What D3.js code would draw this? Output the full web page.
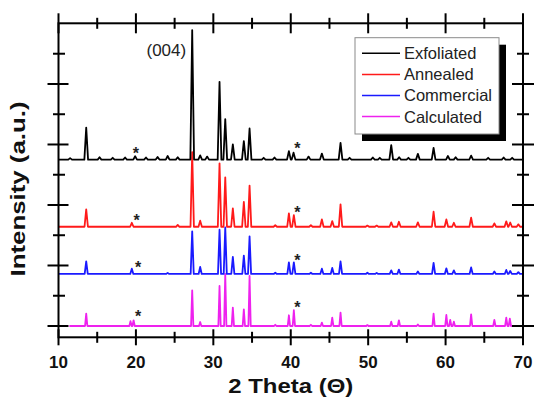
<!DOCTYPE html>
<html>
<head>
<meta charset="utf-8">
<script src="https://cdn.jsdelivr.net/npm/d3@7/dist/d3.min.js"></script>
<style>
  html, body { margin: 0; padding: 0; background: #fff; }
  svg { display: block; font-family: "Liberation Sans", Arial, sans-serif; }
</style>
</head>
<body>
<svg id="chart" width="534" height="398"></svg>
<script>
"use strict";

// peaks as [2theta, height above the trace's own baseline] in a.u.
const exfoliatedPeaks = [
  [11.5, 25], [13.58, 530], [15.3, 40], [17.0, 30], [18.6, 35], [19.9, 55], [21.3, 35], [22.8, 45],
  [24.1, 60], [25.4, 40], [27.27, 2140], [28.3, 70], [29.2, 50], [30.8, 1286], [31.54, 670],
  [32.52, 250], [33.94, 305], [34.68, 515], [36.5, 30], [37.9, 35], [39.76, 140], [40.36, 115],
  [42.3, 50], [44.02, 100], [46.43, 275], [47.6, 30], [50.6, 35], [51.5, 30], [52.98, 240],
  [54.0, 40], [55.2, 30], [56.42, 95], [58.45, 195], [60.3, 60], [61.3, 40], [63.3, 65],
  [65.5, 30], [67.5, 35], [68.6, 30]
];
const annealedPeaks = [
  [13.58, 288], [19.47, 66], [25.4, 30], [27.27, 1235], [28.3, 100], [30.8, 1048], [31.54, 817],
  [32.52, 304], [33.94, 413], [34.68, 680], [38.0, 25], [39.76, 220], [40.4, 193], [42.6, 25],
  [44.02, 122], [45.36, 94], [46.43, 370], [49.9, 20], [51.1, 20], [52.98, 73], [53.97, 83],
  [56.42, 73], [58.45, 248], [60.1, 122], [61.07, 66], [63.3, 150], [66.3, 56], [67.84, 90],
  [68.35, 70], [69.4, 40]
];
const commercialPeaks = [
  [13.58, 208], [19.47, 88], [24.1, 18], [27.27, 704], [28.3, 116], [30.8, 732], [31.54, 770],
  [32.52, 281], [33.94, 302], [34.68, 621], [38.0, 20], [39.76, 192], [40.4, 192], [42.6, 20],
  [44.02, 88], [45.36, 100], [46.43, 208], [49.9, 20], [51.1, 18], [52.98, 60], [53.97, 71],
  [56.42, 40], [58.45, 182], [60.1, 93], [61.07, 58], [63.3, 109], [66.3, 41], [67.84, 66],
  [68.35, 50], [69.4, 30]
];
const calculatedPeaks = [
  [13.58, 205], [19.3, 80], [19.7, 94], [27.27, 590], [28.3, 66], [30.8, 661], [31.54, 860],
  [32.52, 303], [33.94, 276], [34.68, 826], [38.0, 20], [39.76, 177], [40.4, 260], [42.6, 20],
  [44.02, 55], [45.36, 137], [46.43, 220], [49.9, 15], [52.98, 71], [53.97, 94], [56.42, 25],
  [58.45, 203], [60.1, 182], [60.6, 100], [61.07, 71], [63.3, 193], [66.3, 100], [67.84, 137],
  [68.3, 120]
];

const seriesNames = ["Exfoliated", "Annealed", "Commercial", "Calculated"];
const seriesColors = ["#000000", "#ff1a1a", "#1a1aff", "#ee22ee"];
const seriesOffsets = [2750, 1640, 860, 0];
const seriesRanges = [[10, 70], [10, 70], [10, 70], [11.4, 68.8]];
const seriesPeaks = [exfoliatedPeaks, annealedPeaks, commercialPeaks, calculatedPeaks];
const peakHalfWidths = [0.24, 0.22, 0.2, 0.15];
// asterisk markers: [2theta, height above baseline]
const starMarks = [
  [[20.0, 157], [40.85, 240]],
  [[20.1, 165], [40.85, 288]],
  [[20.3, 170], [40.85, 281]],
  [[20.3, 215], [40.85, 359]]
];

const xMajor = [10, 20, 30, 40, 50, 60, 70];
const xMinor = [15, 25, 35, 45, 55, 65];
const yMajor = [0, 1000, 2000, 3000, 4000];
const yMinor = [500, 1500, 2500, 3500, 4500];

const svg = d3.select("#chart");
const x = d3.scaleLinear().domain([10, 70]).range([58.5, 523]);
const y = d3.scaleLinear().domain([-187, 5003]).range([337.3, 23.3]);

function tracePoints(peaks, range, hw) {
  const pts = [[range[0], 0]];
  peaks.filter(function inRange(p) { return p[0] > range[0] && p[0] < range[1]; })
    .forEach(function addPeak(p) {
      pts.push([p[0] - hw, 0], [p[0], p[1]], [p[0] + hw, 0]);
    });
  pts.push([range[1], 0]);
  return pts;
}

const plot = svg.append("g");
const drawOrder = [3, 2, 1, 0];
drawOrder.forEach(function drawSeries(i) {
  const off = seriesOffsets[i];
  const line = d3.line()
    .x(function px(d) { return x(d[0]); })
    .y(function py(d) { return y(d[1] + off); });
  plot.append("path")
    .datum(tracePoints(seriesPeaks[i], seriesRanges[i], peakHalfWidths[i]))
    .attr("d", line)
    .attr("fill", "none")
    .attr("stroke", seriesColors[i])
    .attr("stroke-width", 1.8)
    .attr("stroke-linejoin", "round");
});

// stars
starMarks.forEach(function drawStars(marks, i) {
  marks.forEach(function drawStar(m) {
    svg.append("text")
      .attr("x", x(m[0]))
      .attr("y", y(m[1] + seriesOffsets[i]) + 9)
      .attr("text-anchor", "middle")
      .attr("font-size", 16)
      .attr("font-weight", "bold")
      .attr("fill", "#222")
      .text("*");
  });
});

// (004) label
svg.append("text")
  .attr("x", x(27.27) - 6)
  .attr("y", 56)
  .attr("text-anchor", "end")
  .attr("font-size", 17)
  .attr("fill", "#222")
  .text("(004)");

// axes frame
const axes = svg.append("g").attr("stroke", "#000").attr("stroke-width", 2);
axes.append("rect")
  .attr("x", x(10)).attr("y", y(5003))
  .attr("width", x(70) - x(10)).attr("height", y(-187) - y(5003))
  .attr("fill", "none");

function xTicks(values, yPos, up, down) {
  axes.selectAll(null).data(values).join("line")
    .attr("x1", function t(d) { return x(d); }).attr("x2", function t(d) { return x(d); })
    .attr("y1", yPos - up).attr("y2", yPos + down);
}
function yTicks(values, xPos, left, right) {
  axes.selectAll(null).data(values).join("line")
    .attr("y1", function t(d) { return y(d); }).attr("y2", function t(d) { return y(d); })
    .attr("x1", xPos - left).attr("x2", xPos + right);
}
xTicks(xMajor, y(5003), 10, 10);
xTicks(xMinor, y(5003), 5.5, 5.5);
xTicks(xMajor, y(-187), 8, 8);
xTicks(xMinor, y(-187), 5.5, 5.5);
yTicks(yMajor, x(10), 11, 10);
yTicks(yMinor, x(10), 5.5, 6.5);
yTicks(yMajor, x(70), 11, 11);
yTicks(yMinor, x(70), 6, 6);

// tick labels
svg.selectAll(null).data(xMajor).join("text")
  .attr("x", function t(d) { return x(d); })
  .attr("y", 368)
  .attr("text-anchor", "middle")
  .attr("font-size", 17)
  .attr("font-weight", "bold")
  .attr("fill", "#111")
  .text(function t(d) { return d; });

// axis titles
svg.append("text")
  .attr("x", x(40))
  .attr("y", 393)
  .attr("text-anchor", "middle")
  .attr("font-size", 20)
  .attr("font-weight", "bold")
  .attr("fill", "#111")
  .attr("textLength", 125)
  .attr("lengthAdjust", "spacingAndGlyphs")
  .text("2 Theta (\u0398)");

svg.append("text")
  .attr("transform", "translate(25,189) rotate(-90)")
  .attr("text-anchor", "middle")
  .attr("font-size", 20)
  .attr("font-weight", "bold")
  .attr("fill", "#111")
  .attr("textLength", 175)
  .attr("lengthAdjust", "spacingAndGlyphs")
  .text("Intensity (a.u.)");

// legend
const lg = svg.append("g").attr("transform", "translate(355,37.7)");
lg.append("rect").attr("x", 7).attr("y", 7).attr("width", 144).attr("height", 96.3).attr("fill", "#000");
lg.append("rect").attr("x", 0).attr("y", 0).attr("width", 144).attr("height", 96.3)
  .attr("fill", "#fff").attr("stroke", "#8a8a8a").attr("stroke-width", 1);
seriesNames.forEach(function legendRow(name, i) {
  const cy = 15.6 + i * 21.1;
  lg.append("line").attr("x1", 7).attr("x2", 45).attr("y1", cy).attr("y2", cy)
    .attr("stroke", seriesColors[i]).attr("stroke-width", 1.5);
  lg.append("text").attr("x", 49).attr("y", cy + 6)
    .attr("font-size", 16.5).attr("fill", "#222").text(name);
});
</script>
</body>
</html>
